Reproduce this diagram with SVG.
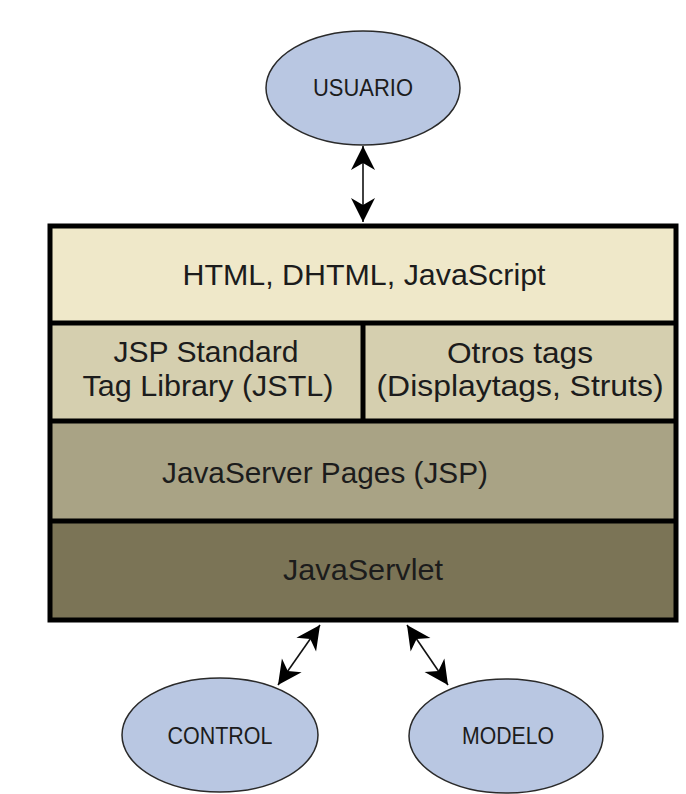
<svg xmlns="http://www.w3.org/2000/svg" width="686" height="794" viewBox="0 0 686 794">
<style>
text{font-family:"Liberation Sans","DejaVu Sans",sans-serif;fill:#1c1c1c;text-anchor:middle}
.big{font-size:29px}
.ell{fill:#B9C7E2;stroke:#2a2a2a;stroke-width:1.5}
.lbl{font-size:24px}
.conn{stroke:#111;stroke-width:1.6;fill:none;marker-start:url(#ah);marker-end:url(#ah)}
.sep{stroke:#000;stroke-width:5;fill:none}
</style>
<defs>
<marker id="ah" viewBox="-26 -13 28 26" refX="0" refY="0" markerWidth="28" markerHeight="26" markerUnits="userSpaceOnUse" orient="auto-start-reverse">
<path d="M0,0 L-24,-12 L-17,0 L-24,12 Z" fill="#000"/>
</marker>
</defs>
<rect width="686" height="794" fill="#fff"/>
<g id="usuario">
<ellipse class="ell" cx="363" cy="88" rx="97" ry="57"/>
<text class="lbl" x="363" y="96" textLength="100" lengthAdjust="spacingAndGlyphs">USUARIO</text>
</g>
<g id="stack">
<rect x="50" y="226" width="626" height="97" fill="#EFE8C9"/>
<rect x="50" y="323" width="626" height="98" fill="#D5CFAF"/>
<rect x="50" y="421" width="626" height="100" fill="#A9A385"/>
<rect x="50" y="521" width="626" height="99" fill="#7B7456"/>
<line class="sep" x1="50" y1="323" x2="676" y2="323"/>
<line class="sep" x1="50" y1="421" x2="676" y2="421"/>
<line class="sep" x1="50" y1="521" x2="676" y2="521"/>
<line class="sep" x1="363" y1="323" x2="363" y2="421"/>
<rect class="sep" x="50" y="226" width="626" height="394"/>
</g>
<g id="html">
<text class="big" x="364" y="285" textLength="363" lengthAdjust="spacingAndGlyphs">HTML, DHTML, JavaScript</text>
</g>
<g id="jstl">
<text class="big" x="206" y="362" textLength="185" lengthAdjust="spacingAndGlyphs">JSP Standard</text>
<text class="big" x="208" y="396" textLength="251" lengthAdjust="spacingAndGlyphs">Tag Library (JSTL)</text>
</g>
<g id="otros">
<text class="big" x="520" y="363" textLength="146" lengthAdjust="spacingAndGlyphs">Otros tags</text>
<text class="big" x="520" y="396" textLength="287" lengthAdjust="spacingAndGlyphs">(Displaytags, Struts)</text>
</g>
<g id="jsp">
<text class="big" x="325" y="483" textLength="326" lengthAdjust="spacingAndGlyphs">JavaServer Pages (JSP)</text>
</g>
<g id="servlet">
<text class="big" x="363" y="580" textLength="160" lengthAdjust="spacingAndGlyphs">JavaServlet</text>
</g>
<g id="control">
<ellipse class="ell" cx="220" cy="735" rx="98" ry="57"/>
<text class="lbl" x="220" y="744" textLength="105" lengthAdjust="spacingAndGlyphs">CONTROL</text>
</g>
<g id="modelo">
<ellipse class="ell" cx="506" cy="736" rx="97" ry="57"/>
<text class="lbl" x="508" y="744" textLength="92" lengthAdjust="spacingAndGlyphs">MODELO</text>
</g>
<g id="connectors">
<line class="conn" x1="363" y1="146" x2="363" y2="222"/>
<line class="conn" x1="320" y1="625" x2="278" y2="685"/>
<line class="conn" x1="407" y1="625" x2="448" y2="685"/>
</g>
</svg>
